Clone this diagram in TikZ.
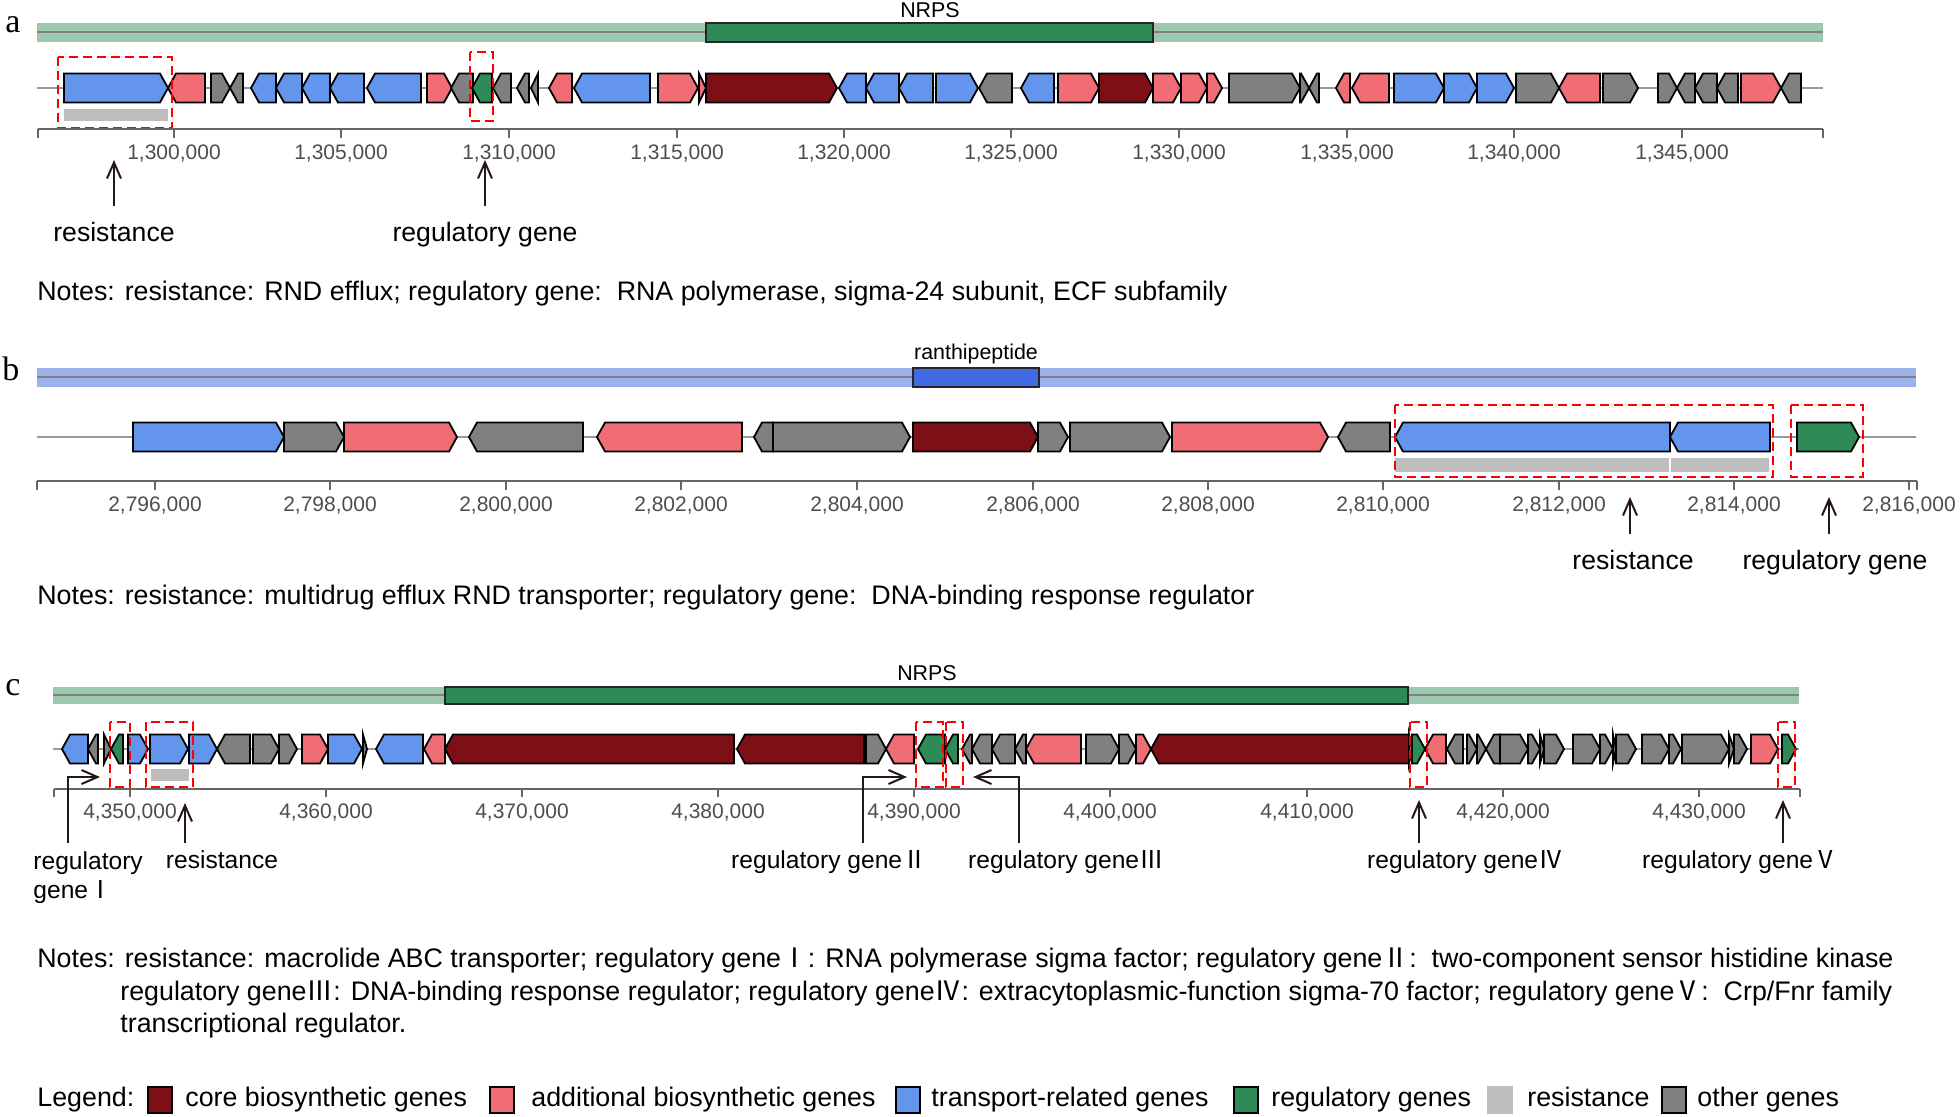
\documentclass[tikz,border=0pt]{standalone}
\usepackage{fontspec}
\setmainfont{Liberation Sans}
\newfontfamily\letterfont{Liberation Serif}
\newfontfamily\cjk{Noto Sans CJK SC}
\usetikzlibrary{arrows.meta}
\definecolor{corebio}{HTML}{7F0F16}
\definecolor{addbio}{HTML}{F06D75}
\definecolor{transp}{HTML}{6495ED}
\definecolor{regul}{HTML}{2E8B57}
\definecolor{resist}{HTML}{BDBDBD}
\definecolor{othergene}{HTML}{808080}
\definecolor{bandgreen}{HTML}{9CC8B0}
\definecolor{bandblue}{HTML}{9DB2EC}
\definecolor{ranthi}{HTML}{4169E1}
\definecolor{tickgray}{HTML}{4D4D4D}
\definecolor{pointer}{HTML}{231815}
% one gene arrow: y, start, end, direction (1/-1), colour
\newcommand{\gene}[5]{%
  \pgfmathsetmacro{\gtail}{#4>0 ? #2 : #3}%
  \pgfmathsetmacro{\gtip}{#4>0 ? #3 : #2}%
  \pgfmathsetmacro{\gneck}{\gtip-#4*min(8,#3-#2)}%
  \draw[genebox,fill=#5] (\gtail,#1-14.5) -- (\gneck,#1-14.5) -- (\gtip,#1)
    -- (\gneck,#1+14.5) -- (\gtail,#1+14.5) -- cycle;}

\begin{document}
\begin{tikzpicture}[x=0.5pt,y=-0.5pt,
    genebox/.style={draw=black,line width=0.9pt},
    backbone/.style={draw=gray!80,line width=0.8pt},
    bandline/.style={draw=gray,line width=0.9pt},
    clusterbox/.style={draw=black!85,line width=0.9pt},
    hilite/.style={draw=red,line width=1.3pt,dash pattern=on 4.5pt off 2.5pt},
    axis/.style={draw=black!60,line width=1pt},
    ticklab/.style={font=\fontsize{10.5}{12}\selectfont,text=tickgray},
    cluster/.style={font=\fontsize{10.7}{12}\selectfont},
    panel/.style={font=\letterfont\fontsize{17}{18}\selectfont},
    arrlab/.style={font=\fontsize{13.3}{15}\selectfont,text height=9.6pt,text depth=2.7pt},
    smalllab/.style={font=\fontsize{12.3}{14.5}\selectfont,text height=8.9pt,text depth=2.5pt},
    notetext/.style={font=\fontsize{13.4}{16}\selectfont,anchor=west,inner sep=0pt,
      text height=9.6pt,text depth=2.7pt},
    pointer/.style={draw=pointer,line width=1pt,-{Straight Barb[length=8pt,width=7pt]}}]
  \useasboundingbox (0,0) rectangle (1960,1116);

  % ---- panel a
  \node[panel] (pa) at (13,25) {a};
  \fill[bandgreen] (37,23) rectangle (1823,42);
  \draw[bandline] (37,32) -- (1823,32);
  \draw[clusterbox,fill=regul] (706,23) rectangle (1153,42);
  \node[cluster] (nrpsA) at (930,10) {NRPS};
  \draw[backbone] (37,88) -- (1823,88);
  \foreach \s/\e/\d/\c in {64/168/1/transp,168/205/-1/addbio,211/230/1/othergene,
      230/243/-1/othergene,251/276/-1/transp,276/302/-1/transp,302/330/-1/transp,
      330/364/-1/transp,367/421/-1/transp,427/452/1/addbio,451/473/-1/othergene,
      472/492/-1/regul,493/511/-1/othergene,517/529/-1/othergene,531/538/-1/othergene,
      549/572/-1/addbio,574/650/-1/transp,658/698/1/addbio,699/706/1/addbio,
      706/837/1/corebio,839/866/-1/transp,866/899/-1/transp,899/933/-1/transp,
      936/978/1/transp,979/1012/-1/othergene,1021/1054/-1/transp,1058/1099/1/addbio,
      1099/1153/1/corebio,1153/1181/1/addbio,1181/1207/1/addbio,1207/1222/1/addbio,
      1229/1300/1/othergene,1300/1309/1/othergene,1309/1319/-1/othergene,
      1336/1350/-1/addbio,1352/1389/-1/addbio,1394/1444/1/transp,1444/1477/1/transp,
      1477/1514/1/transp,1516/1559/1/othergene,1559/1600/-1/addbio,1603/1638/1/othergene,
      1658/1677/1/othergene,1677/1695/-1/othergene,1695/1717/-1/othergene,
      1717/1738/-1/othergene,1741/1781/1/addbio,1781/1801/-1/othergene}
    \gene{88}{\s}{\e}{\d}{\c};
  \fill[resist] (64,109) rectangle (168,121);
  \draw[hilite] (58,57) rectangle (172,128);
  \draw[hilite] (470,52) rectangle (493,121);
  \draw[axis] (38,129) -- (1823,129);
  \foreach \x in {38,1823}
    \draw[axis] (\x,129) -- (\x,138);
  \foreach \x/\l in {174/300,341/305,509/310,677/315,844/320,1011/325,1179/330,
      1347/335,1514/340,1682/345} {
    \draw[axis] (\x,129) -- (\x,138);
    \node[ticklab] (ta\l) at (\x,154) {1,\l,000};
  }
  \node[arrlab] (resA) at (114,235) {resistance};
  \coordinate (resAtip) at (114,160);
  \draw[pointer,shorten <=5pt] (resA.north) -- (resAtip);
  \node[arrlab] (regA) at (485,235) {regulatory gene};
  \coordinate (regAtip) at (485,160);
  \draw[pointer,shorten <=5pt] (regA.north) -- (regAtip);
  \node[notetext] (noteA) at (37,294) {Notes: resistance: RND efflux; regulatory gene:\ \ RNA polymerase, sigma-24 subunit, ECF subfamily};

  % ---- panel b
  \node[panel] (pb) at (11,369) {b};
  \fill[bandblue] (37,368) rectangle (1916,387);
  \draw[bandline] (37,377) -- (1916,377);
  \draw[clusterbox,fill=ranthi] (913,368) rectangle (1039,387);
  \node[cluster] (ranB) at (976,354) {ranthipeptide};
  \draw[backbone] (37,437) -- (1916,437);
  \foreach \s/\e/\d/\c in {133/284/1/transp,284/344/1/othergene,344/457/1/addbio,
      469/583/-1/othergene,597/742/-1/addbio,754/773/-1/othergene,773/910/1/othergene,
      913/1038/1/corebio,1038/1068/1/othergene,1070/1170/1/othergene,1172/1328/1/addbio,
      1338/1390/-1/othergene,1395/1670/-1/transp,1670/1770/-1/transp,1797/1859/1/regul}
    \gene{437}{\s}{\e}{\d}{\c};
  \fill[resist] (1395,458) rectangle (1669,472);
  \fill[resist] (1671,458) rectangle (1769,472);
  \draw[hilite] (1395,405) rectangle (1773,477);
  \draw[hilite] (1791,405) rectangle (1863,477);
  \draw[axis] (37,481) -- (1917,481);
  \foreach \x in {37,1917}
    \draw[axis] (\x,481) -- (\x,490);
  \foreach \x/\l in {155/796,330/798,506/800,681/802,857/804,1033/806,1208/808,
      1383/810,1559/812,1734/814,1909/816} {
    \draw[axis] (\x,481) -- (\x,490);
    \node[ticklab] (tb\l) at (\x,505) {2,\l,000};
  }
  \node[arrlab] (resB) at (1633,563) {resistance};
  \coordinate (resBtip) at (1630,497);
  \draw[pointer,shorten <=5pt] (resB.north -| resBtip) -- (resBtip);
  \node[arrlab] (regB) at (1835,563) {regulatory gene};
  \coordinate (regBtip) at (1829,497);
  \draw[pointer,shorten <=5pt] (regB.north -| regBtip) -- (regBtip);
  \node[notetext] (noteB) at (37,598) {Notes: resistance: multidrug efflux RND transporter; regulatory gene:\ \ DNA-binding response regulator};

  % ---- panel c
  \node[panel] (pc) at (13,688) {c};
  \fill[bandgreen] (53,687) rectangle (1799,704);
  \draw[bandline] (53,695) -- (1799,695);
  \draw[clusterbox,fill=regul] (445,687) rectangle (1408,704);
  \node[cluster] (nrpsC) at (927,673) {NRPS};
  \draw[backbone] (53,749) -- (1799,749);
  \foreach \s/\e/\d/\c in {62/88/-1/transp,88/98/-1/othergene,104/111/1/othergene,
      111/123/-1/regul,128/148/1/transp,150/188/1/transp,189/217/1/transp,
      217/250/-1/othergene,253/279/1/othergene,279/297/1/othergene,302/328/1/addbio,
      328/362/1/transp,363/367/1/othergene,376/423/-1/transp,424/445/-1/addbio,
      445/734/-1/corebio,737/864/-1/corebio,866/886/1/othergene,886/914/-1/addbio,
      918/945/-1/regul,945/958/-1/regul,962/972/-1/othergene,972/992/-1/othergene,
      992/1015/-1/othergene,1015/1026/-1/othergene,1026/1081/-1/addbio,
      1086/1119/1/othergene,1119/1136/1/othergene,1136/1151/1/addbio,
      1151/1409/-1/corebio,1409/1412/1/othergene,1412/1425/1/regul,1425/1446/-1/addbio,
      1447/1463/-1/othergene,1467/1477/1/othergene,1477/1486/1/othergene,
      1486/1500/-1/othergene,1500/1528/1/othergene,1528/1540/1/othergene,
      1540/1544/1/othergene,1544/1564/1/othergene,1573/1600/1/othergene,
      1600/1613/1/othergene,1613/1616/1/othergene,1616/1636/1/othergene,
      1642/1669/1/othergene,1669/1681/1/othergene,1682/1729/1/othergene,
      1729/1734/1/othergene,1734/1747/1/othergene,1751/1778/1/addbio,1782/1796/1/regul}
    \gene{749}{\s}{\e}{\d}{\c};
  \fill[resist] (151,769) rectangle (189,781);
  \foreach \a/\b in {110/130,146/193,916/943,946/963,1410/1427,1778/1795}
    \draw[hilite] (\a,722) rectangle (\b,787);
  \draw[axis] (54,789) -- (1800,789);
  \foreach \x in {54,1800}
    \draw[axis] (\x,789) -- (\x,797);
  \foreach \x/\l in {130/350,326/360,522/370,718/380,914/390,1110/400,1307/410,
      1503/420,1699/430} {
    \draw[axis] (\x,789) -- (\x,797);
    \node[ticklab] (tc\l) at (\x,812) {4,\l,000};
  }
  \node[font=\fontsize{12.3}{14.5}\selectfont,align=left,anchor=north west,inner sep=0pt] (regC1) at (33,851) {regulatory\\gene{\cjk Ⅰ}};
  \coordinate (regC1foot) at (68,843);
  \coordinate (regC1tip) at (100,777);
  \draw[pointer] (regC1foot) |- (regC1tip);
  \node[smalllab] (resC) at (222,862) {resistance};
  \coordinate (resCfoot) at (185,843);
  \coordinate (resCtip) at (185,803);
  \draw[pointer] (resCfoot) -- (resCtip);
  \node[smalllab] (regC2) at (829,862) {regulatory gene{\cjk Ⅱ}};
  \coordinate (regC2foot) at (863,843);
  \coordinate (regC2tip) at (907,777);
  \draw[pointer] (regC2foot) |- (regC2tip);
  \node[smalllab] (regC3) at (1066,862) {regulatory gene{\cjk Ⅲ}};
  \coordinate (regC3foot) at (1019,843);
  \coordinate (regC3tip) at (973,777);
  \draw[pointer] (regC3foot) |- (regC3tip);
  \node[smalllab] (regC4) at (1465,862) {regulatory gene{\cjk Ⅳ}};
  \coordinate (regC4foot) at (1419,843);
  \coordinate (regC4tip) at (1419,800);
  \draw[pointer] (regC4foot) -- (regC4tip);
  \node[smalllab] (regC5) at (1740,862) {regulatory gene{\cjk Ⅴ}};
  \coordinate (regC5foot) at (1783,843);
  \coordinate (regC5tip) at (1783,800);
  \draw[pointer] (regC5foot) -- (regC5tip);
  \node[notetext] (noteC1) at (37,961) {Notes: resistance: macrolide ABC transporter; regulatory gene{\cjk Ⅰ}: RNA polymerase sigma factor; regulatory gene{\cjk Ⅱ}:\ \ two-component sensor histidine kinase};
  \node[notetext] (noteC2) at (120,994) {regulatory gene{\cjk Ⅲ}: DNA-binding response regulator; regulatory gene{\cjk Ⅳ}: extracytoplasmic-function sigma-70 factor; regulatory gene{\cjk Ⅴ}:\ \ Crp/Fnr family};
  \node[notetext] (noteC3) at (120,1026) {transcriptional regulator.};

  % ---- legend
  \node[notetext] (legend) at (37,1100) {Legend:};
  \foreach \sx/\c/\o/\tx/\t [count=\i] in {148/corebio/black/185/core biosynthetic genes,
      490/addbio/black/531/additional biosynthetic genes,
      896/transp/black/931/transport-related genes,
      1234/regul/black/1271/regulatory genes,
      1488/resist/resist/1527/resistance,
      1662/othergene/black/1697/other genes} {
    \draw[draw=\o,line width=0.9pt,fill=\c] (\sx,1087) rectangle ++(24,26);
    \node[notetext] (lg\i) at (\tx,1100) {\t};
  }
\end{tikzpicture}
\end{document}
